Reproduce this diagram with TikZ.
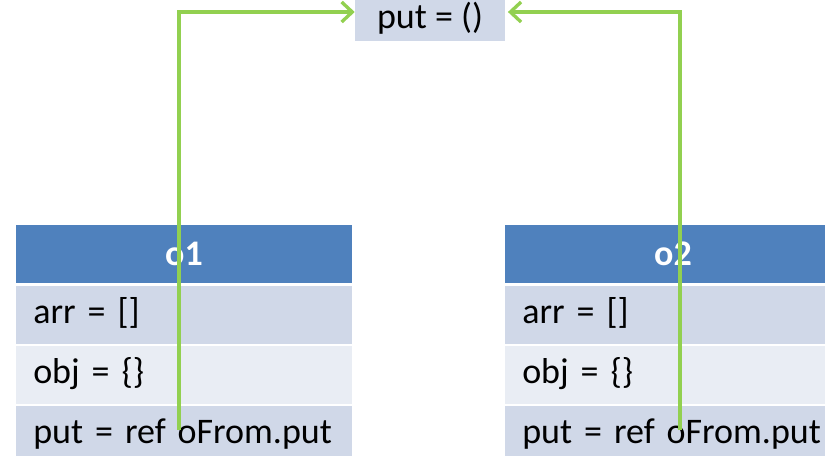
\documentclass[tikz,border=0pt]{standalone}
\usepackage{fontspec}
\setmainfont{Carlito}
\usetikzlibrary{arrows.meta}
\definecolor{headblue}{HTML}{4F81BD}
\definecolor{rowdark}{HTML}{D0D8E8}
\definecolor{rowlight}{HTML}{E9EDF4}
\definecolor{refgreen}{HTML}{92D050}
\tikzset{
  head/.style={fill=headblue, text=white, font=\fontsize{27}{32}\selectfont\bfseries,
    minimum width=252pt, minimum height=43pt, inner sep=0pt},
  row/.style={anchor=west, font=\fontsize{27}{32}\selectfont, inner ysep=0pt, inner xsep=12.75pt,
    text width=226.5pt, align=left, minimum height=43.5pt, text height=19pt, text depth=6pt},
  ref/.style={draw=refgreen, line width=2.5pt, -{Straight Barb[length=8pt,width=15pt,line width=2.5pt]}}
}
\begin{document}
\begin{tikzpicture}[x=0.75pt,y=-0.75pt]
    \clip (0,0) rectangle (825,455);
    \fill[white] (0,0) rectangle (825,455);
    % shared function
    \node[fill=rowdark, minimum width=112.5pt, minimum height=43.5pt, inner sep=0pt,
      text height=28pt, text depth=4pt, font=\fontsize{27}{32}\selectfont] (put) at (430,12) {put = ()};
    % left object
    \node[head] (o1head) at (184,254) {o1};
    \node[row, fill=rowdark] (o1arr) at (16,315) {arr = []};
    \node[row, fill=rowlight] (o1obj) at (16,375) {obj = \{\}};
    \node[row, fill=rowdark] (o1put) at (16,435) {put = ref oFrom.put};
    % right object
    \node[head] (o2head) at (673,254) {o2};
    \node[row, fill=rowdark] (o2arr) at (505,315) {arr = []};
    \node[row, fill=rowlight] (o2obj) at (505,375) {obj = \{\}};
    \node[row, fill=rowdark] (o2put) at (505,435) {put = ref oFrom.put};
    % references
    \coordinate (o1ref) at (179,430);
    \coordinate (o2ref) at (680,430);
    \draw[ref] (o1ref) |- (put.west);
    \draw[ref, shorten >=2pt] (o2ref) |- (put.east);
  \end{tikzpicture}
\end{document}
